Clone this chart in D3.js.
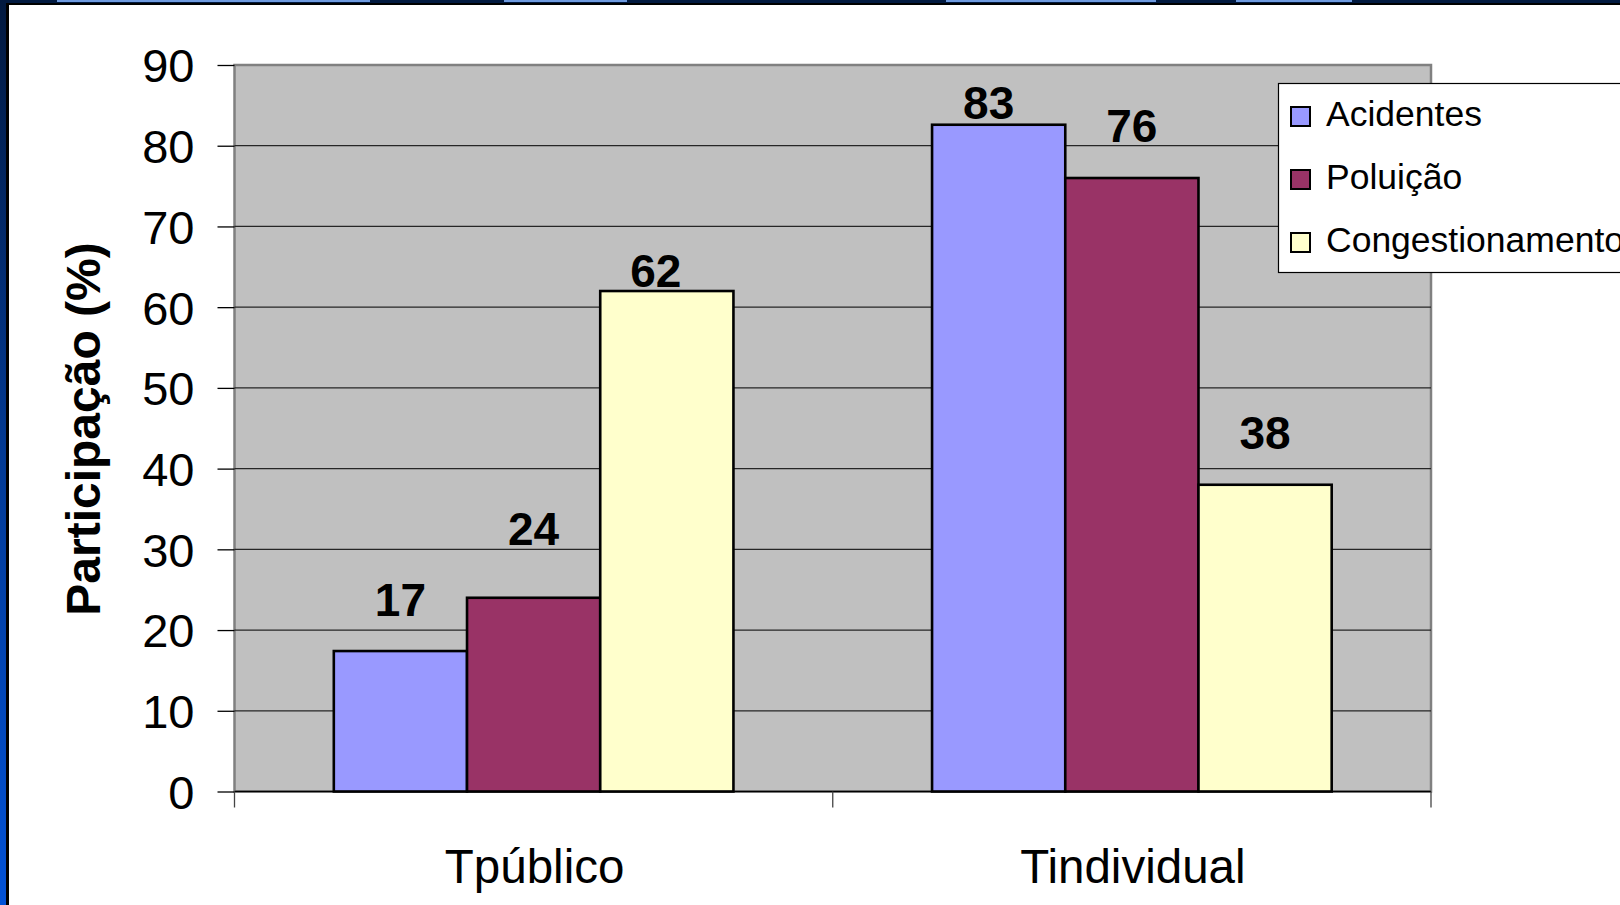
<!DOCTYPE html>
<html>
<head>
<meta charset="utf-8">
<script src="https://cdn.jsdelivr.net/npm/d3@7"></script>
<style>
  body { margin: 0; background: #ffffff; }
  svg { display: block; font-family: "Liberation Sans", Arial, sans-serif; }
</style>
</head>
<body>
<script>

// chart data
var categories = ["Tpúblico", "Tindividual"];
var seriesNames = ["Acidentes", "Poluição", "Congestionamento"];
var acidentes = [17.4, 82.6];
var poluicao = [24, 76];
var congestionamento = [62, 38];
var yTicks = [0, 10, 20, 30, 40, 50, 60, 70, 80, 90];

// label nudges (the labels were moved by hand in the original)
var labelNudge = [
    [[0, -35], [0, -53], [-11, -4]],
    [[-10, -6], [0, -36], [0, -36]]
];

var colors = ["#9999ff", "#993366", "#ffffcc"];

var width = 1620,
    height = 905;

var plot = {left: 234.5, right: 1431, top: 65, bottom: 791.5};

var svg = d3.select("body").append("svg")
    .attr("width", width)
    .attr("height", height);

// frame of the slide
var defs = svg.append("defs");
var grad = defs.append("linearGradient")
    .attr("id", "edge")
    .attr("x1", 0).attr("y1", 0).attr("x2", 0).attr("y2", 1);
grad.append("stop").attr("offset", "0%").attr("stop-color", "#02193f");
grad.append("stop").attr("offset", "50%").attr("stop-color", "#033a94");
grad.append("stop").attr("offset", "100%").attr("stop-color", "#0352d6");

svg.append("rect").attr("x", 0).attr("y", 0).attr("width", width).attr("height", 5).attr("fill", "#021a40");
svg.append("rect").attr("x", 0).attr("y", 3).attr("width", width).attr("height", 2).attr("fill", "#000000");
[[57, 370], [504, 627], [946, 1156], [1236, 1352]].forEach(function(t) {
    svg.append("rect").attr("x", t[0]).attr("y", 0).attr("width", t[1] - t[0]).attr("height", 2).attr("fill", "#6f9be0");
});
svg.append("rect").attr("x", 0).attr("y", 0).attr("width", 6).attr("height", height).attr("fill", "url(#edge)");
svg.append("rect").attr("x", 6).attr("y", 3).attr("width", 3).attr("height", height).attr("fill", "#000000");

// scales
var x0 = d3.scaleBand()
    .domain(categories)
    .range([plot.left, plot.right]);

var x1 = d3.scaleBand()
    .domain(seriesNames)
    .range([x0.bandwidth() * 0.166, x0.bandwidth() * 0.834]);

var y = d3.scaleLinear()
    .domain([0, 90])
    .range([plot.bottom, plot.top]);

// plot area
svg.append("rect")
    .attr("x", plot.left)
    .attr("y", plot.top)
    .attr("width", plot.right - plot.left)
    .attr("height", plot.bottom - plot.top)
    .attr("fill", "#c0c0c0")
    .attr("stroke", "#808080")
    .attr("stroke-width", 2.5);

// gridlines
svg.append("g")
    .selectAll("line")
    .data(yTicks.filter(function(t) { return t > 0 && t < 90; }))
    .enter().append("line")
    .attr("x1", plot.left)
    .attr("x2", plot.right)
    .attr("y1", function(d) { return y(d); })
    .attr("y2", function(d) { return y(d); })
    .attr("stroke", "#262626")
    .attr("stroke-width", 1.2);

// y axis
var yAxis = svg.append("g")
    .attr("transform", "translate(" + plot.left + ",0)")
    .call(d3.axisLeft(y).tickValues(yTicks).tickSize(17).tickPadding(23));
yAxis.select(".domain").remove();
yAxis.selectAll(".tick line").attr("stroke", "#000").attr("stroke-width", 1.3);
yAxis.selectAll(".tick text")
    .attr("font-size", "47px")
    .attr("font-family", "Liberation Sans, Arial, sans-serif")
    .attr("fill", "#000")
    .attr("dy", "0.36em");

// x axis
var xAxis = svg.append("g")
    .attr("transform", "translate(0," + plot.bottom + ")");
xAxis.append("line")
    .attr("x1", plot.left).attr("x2", plot.right)
    .attr("y1", 0).attr("y2", 0)
    .attr("stroke", "#000").attr("stroke-width", 1.5);
xAxis.selectAll(".xtick")
    .data([plot.left].concat(categories.map(function(c) { return x0(c) + x0.bandwidth(); })))
    .enter().append("line")
    .attr("class", "xtick")
    .attr("x1", function(d) { return d; })
    .attr("x2", function(d) { return d; })
    .attr("y1", 0).attr("y2", 16)
    .attr("stroke", "#444").attr("stroke-width", 1.3);
xAxis.selectAll(".xlabel")
    .data(categories)
    .enter().append("text")
    .attr("class", "xlabel")
    .attr("x", function(d) { return x0(d) + x0.bandwidth() / 2 + 1; })
    .attr("y", 91)
    .attr("text-anchor", "middle")
    .attr("font-size", "47.5px")
    .attr("fill", "#000")
    .text(function(d) { return d; });

// bars
var table = categories.map(function(c, i) {
    return {
        category: c,
        values: [acidentes[i], poluicao[i], congestionamento[i]].map(function(v, j) {
            return {series: seriesNames[j], value: v, nudge: labelNudge[i][j], color: colors[j]};
        })
    };
});

var groups = svg.append("g")
    .selectAll("g")
    .data(table)
    .enter().append("g")
    .attr("transform", function(d) { return "translate(" + x0(d.category) + ",0)"; });

groups.selectAll("rect")
    .data(function(d) { return d.values; })
    .enter().append("rect")
    .attr("x", function(d) { return x1(d.series); })
    .attr("y", function(d) { return y(d.value); })
    .attr("width", x1.bandwidth())
    .attr("height", function(d) { return plot.bottom - y(d.value); })
    .attr("fill", function(d) { return d.color; })
    .attr("stroke", "#000")
    .attr("stroke-width", 2.6);

groups.selectAll("text")
    .data(function(d) { return d.values; })
    .enter().append("text")
    .attr("x", function(d) { return x1(d.series) + x1.bandwidth() / 2 + d.nudge[0]; })
    .attr("y", function(d) { return y(d.value) + d.nudge[1]; })
    .attr("text-anchor", "middle")
    .attr("font-size", "46px")
    .attr("font-weight", "bold")
    .attr("fill", "#000")
    .text(function(d) { return d3.format(".0f")(d.value); });

// y axis title
svg.append("text")
    .attr("transform", "translate(100,429) rotate(-90)")
    .attr("text-anchor", "middle")
    .attr("font-size", "48px")
    .attr("font-weight", "bold")
    .attr("fill", "#000")
    .text("Participação (%)");

// legend
var legend = svg.append("g");
legend.append("rect")
    .attr("x", 1278.5)
    .attr("y", 83.5)
    .attr("width", 400)
    .attr("height", 189)
    .attr("fill", "#ffffff")
    .attr("stroke", "#000")
    .attr("stroke-width", 1.2);

var item = legend.selectAll(".item")
    .data(seriesNames)
    .enter().append("g")
    .attr("class", "item")
    .attr("transform", function(d, i) { return "translate(1291," + (116.5 + i * 63) + ")"; });

item.append("rect")
    .attr("x", 0)
    .attr("y", -9.5)
    .attr("width", 19)
    .attr("height", 19)
    .attr("fill", function(d, i) { return colors[i]; })
    .attr("stroke", "#000")
    .attr("stroke-width", 2);

item.append("text")
    .attr("x", 35)
    .attr("y", 9.5)
    .attr("font-size", "35.5px")
    .attr("fill", "#000")
    .text(function(d) { return d; });

</script>
</body>
</html>
